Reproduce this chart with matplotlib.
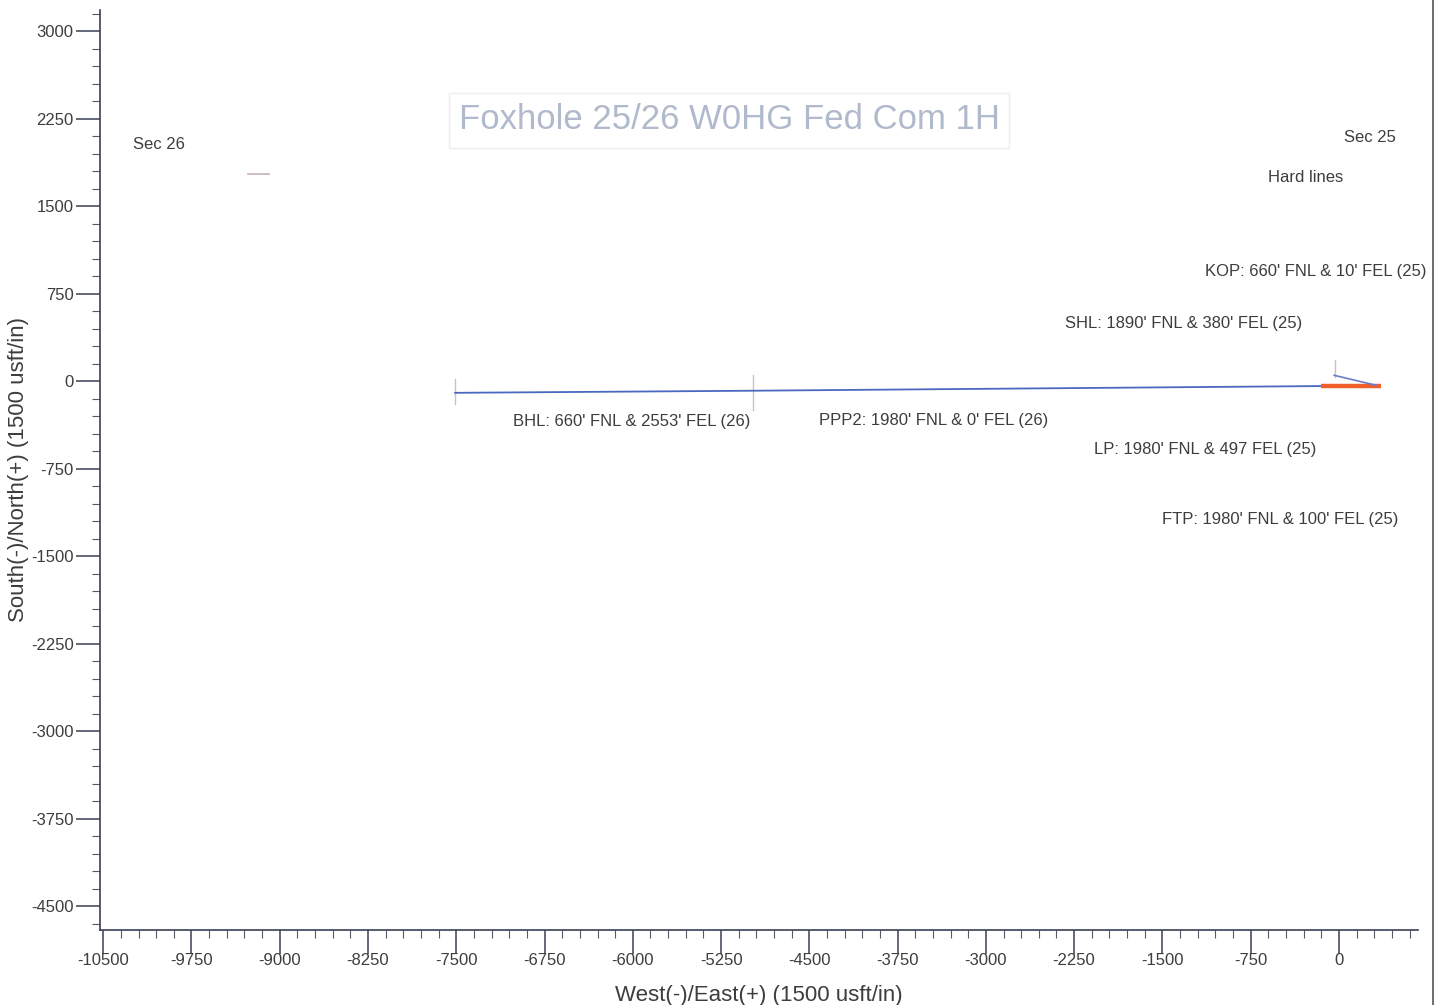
import matplotlib.pyplot as plt
from matplotlib.lines import Line2D
from matplotlib.patches import Rectangle
from matplotlib.ticker import MultipleLocator

plt.rcParams['font.family'] = ['Liberation Sans', 'DejaVu Sans']
plt.rcParams['axes.unicode_minus'] = False

# Well path, local coordinates (usft), East(+)/North(+)
lateral_ew = [-7510, -4975, -150]
lateral_ns = [-100, -82, -42]
curve_ew = [-150, 355]
curve_ns = [-40, -40]
build_ew = [-40, 315]
build_ns = [50, -35]

# Short marker lines at BHL, PPP2 and SHL
marker_ew = [-7510, -4975, -35]
marker_top = [20, 50, 180]
marker_bot = [-200, -250, 35]

# Annotations: (text, east, north)
labels = [
    ("Sec 26", -10250, 2030),
    ("Sec 25", 40, 2090),
    ("Hard lines", -605, 1745),
    ("KOP: 660' FNL & 10' FEL (25)", -1140, 940),
    ("SHL: 1890' FNL & 380' FEL (25)", -2330, 493),
    ("BHL: 660' FNL & 2553' FEL (26)", -7015, -348),
    ("PPP2: 1980' FNL & 0' FEL (26)", -4420, -340),
    ("LP: 1980' FNL & 497 FEL (25)", -2085, -588),
    ("FTP: 1980' FNL & 100' FEL (25)", -1500, -1189),
]
title = "Foxhole 25/26 W0HG Fed Com 1H"
x_ticks = [-10500, -9750, -9000, -8250, -7500, -6750, -6000, -5250, -4500,
           -3750, -3000, -2250, -1500, -750, 0]
y_ticks = [3000, 2250, 1500, 750, 0, -750, -1500, -2250, -3000, -3750, -4500]

fig = plt.figure(figsize=(14.38, 10.05), dpi=100)
ax = fig.add_axes([0.0695, 0.075, 0.9165, 0.915])

txt = '#3d3d3d'
spine = '#3a3f55'

# the well path
ax.plot(lateral_ew, lateral_ns, color='#4a68c0', lw=1.3, zorder=3)
ax.plot(curve_ew, curve_ns, color='#f0602a', lw=3.2, solid_capstyle='butt', zorder=4)
ax.plot(build_ew, build_ns, color='#6a7cc8', lw=1.2, zorder=5)
for x, t, b in zip(marker_ew, marker_top, marker_bot):
    ax.plot([x, x], [b, t], color='#c4c4c4', lw=1.0, zorder=2)

# faint little mark near Sec 26
ax.plot([-9270, -9095], [1778, 1778], color='#a08080', lw=1.2, alpha=0.6)

for s, x, y in labels:
    ax.text(x, y, s, fontsize=12, color=txt, ha='left', va='center', zorder=6)

ax.text(-7480, 2238, title, fontsize=25, color='#b0bacc', ha='left', va='center')
ax.add_patch(Rectangle((-7565, 2000), 4765, 470, fill=False,
                       edgecolor='#eceef2', lw=1.0))

ax.set_xlim(-10528, 671)
ax.set_ylim(-4700, 3180)
ax.set_xticks(x_ticks)
ax.set_yticks(y_ticks)
ax.xaxis.set_minor_locator(MultipleLocator(150))
ax.yaxis.set_minor_locator(MultipleLocator(150))

for side in ['top', 'right']:
    ax.spines[side].set_visible(False)
for side in ['left', 'bottom']:
    ax.spines[side].set_color(spine)
    ax.spines[side].set_linewidth(1.2)

ax.tick_params(which='major', length=17, width=1.1, color=spine,
               labelsize=12, labelcolor=txt, direction='out')
ax.tick_params(axis='y', which='major', pad=2)
ax.tick_params(axis='x', which='major', pad=0)
ax.tick_params(which='minor', length=6, width=0.8, color='#555a6a', direction='out')

ax.set_xlabel("West(-)/East(+) (1500 usft/in)", fontsize=16, color=txt, labelpad=12)
ax.set_ylabel("South(-)/North(+) (1500 usft/in)", fontsize=16, color=txt, labelpad=1)

# scanner page edge on the right
fig.add_artist(Line2D([0.9965, 0.9965], [0, 1], color='#555555', lw=1.2))

fig.savefig('out.png', dpi=100, facecolor='white')
